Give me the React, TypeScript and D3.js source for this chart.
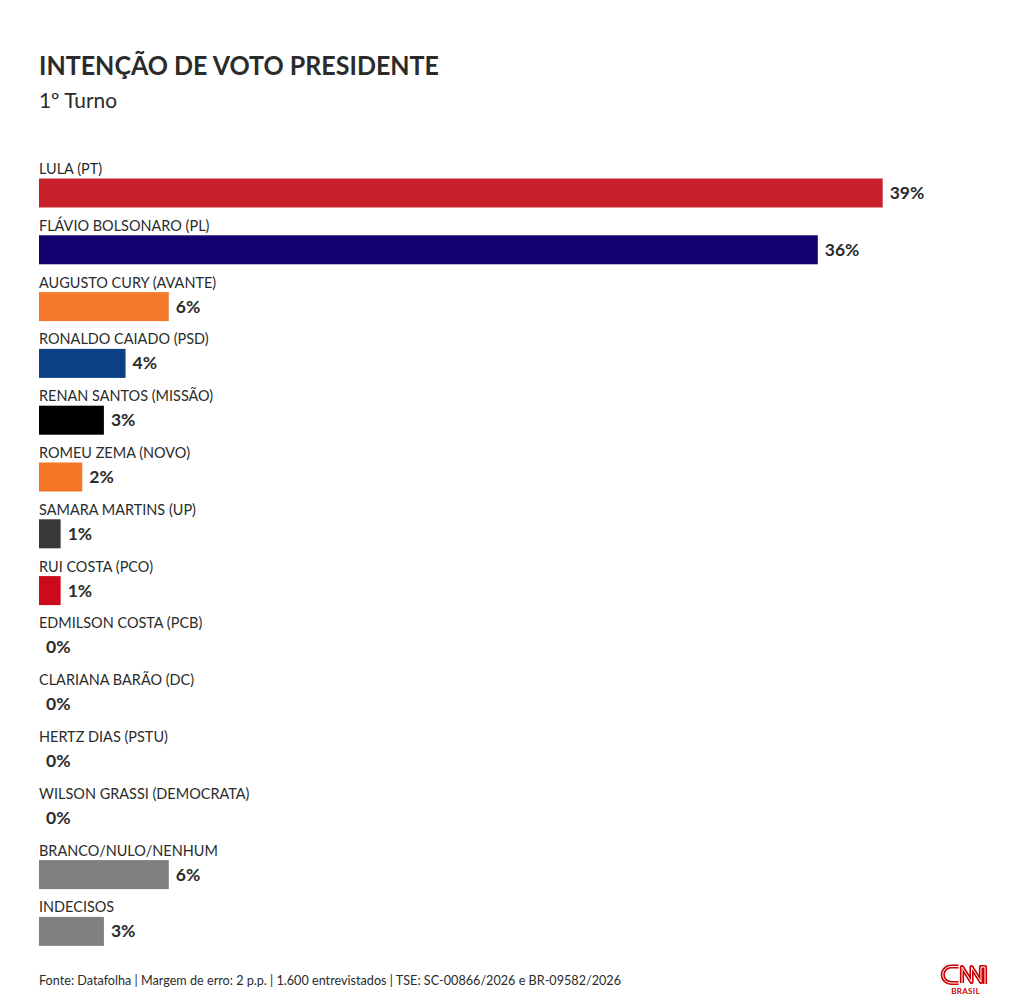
import React from "react";
import * as d3 from "d3";

const categories = ["LULA (PT)","FLÁVIO BOLSONARO (PL)","AUGUSTO CURY (AVANTE)","RONALDO CAIADO (PSD)","RENAN SANTOS (MISSÃO)","ROMEU ZEMA (NOVO)","SAMARA MARTINS (UP)","RUI COSTA (PCO)","EDMILSON COSTA (PCB)","CLARIANA BARÃO (DC)","HERTZ DIAS (PSTU)","WILSON GRASSI (DEMOCRATA)","BRANCO/NULO/NENHUM","INDECISOS"];
const values = [39,36,6,4,3,2,1,1,0,0,0,0,6,3];
const colors = ["#c8202b","#14006e","#f4792c","#0b4085","#000000","#f47524","#383838","#cc0a1c","#808080","#808080","#808080","#808080","#808080","#808080"];
const title = "INTENÇÃO DE VOTO PRESIDENTE";
const subtitle = "1º Turno";
const source = "Fonte: Datafolha | Margem de erro: 2 p.p. | 1.600 entrevistados | TSE: SC-00866/2026 e BR-09582/2026";

const FONT = "Lato, 'Noto Sans', sans-serif";
const INK = "#2b2b2b";
const LOGO = "M958.5 966.5H951a8 8 0 0 0 0 16.5H958.500M962 983V967L971.500 982V967L981 982V967H985V984";

export default function App() {
  const x = d3.scaleLinear().domain([0, 39]).range([39, 882.7]);
  const y = d3.scaleBand<number>().domain(d3.range(categories.length)).range([178.5, 178.5 + 56.8 * 14]).paddingInner(0);
  const barH = 29;
  return (
    <svg width={1020} height={1007} viewBox="0 0 1020 1007" style={{ position: "absolute", left: 0, top: 0, display: "block", background: "#fff" }} fontFamily={FONT}>
      <text x={39} y={75} fontSize={27} fontWeight={700} fill={INK} textLength={400} lengthAdjust="spacingAndGlyphs">{title}</text>
      <text x={39} y={108} fontSize={21} fill={INK} textLength={78} lengthAdjust="spacingAndGlyphs">{subtitle}</text>
      {categories.map((c, i) => {
        const v = values[i];
        const top = y(i)!;
        return (
          <g key={c}>
            <text transform={`translate(39,${top - 4.5}) scale(0.934,1)`} fontSize={15.5} fill={INK}>{c}</text>
            {v > 0 && <rect x={x(0)} y={top} width={x(v) - x(0)} height={barH} fill={colors[i]} />}
            <text x={x(v) + 7} y={top + 20.5} fontSize={17.5} fontWeight={700} fill={INK}>{v}%</text>
          </g>
        );
      })}
      <text x={39} y={985} fontSize={13.5} fill={INK} textLength={582} lengthAdjust="spacingAndGlyphs">{source}</text>
      <g fill="none" strokeLinejoin="round">
        <path d={LOGO} stroke="#cc0000" strokeWidth={4.2} />
        <path d={LOGO} stroke="#ffffff" strokeWidth={1} />
      </g>
      <text x={965.5} y={994} fontSize={8} fontWeight={700} fill="#cc0000" textAnchor="middle" letterSpacing={0.3}>BRASIL</text>
    </svg>
  );
}
